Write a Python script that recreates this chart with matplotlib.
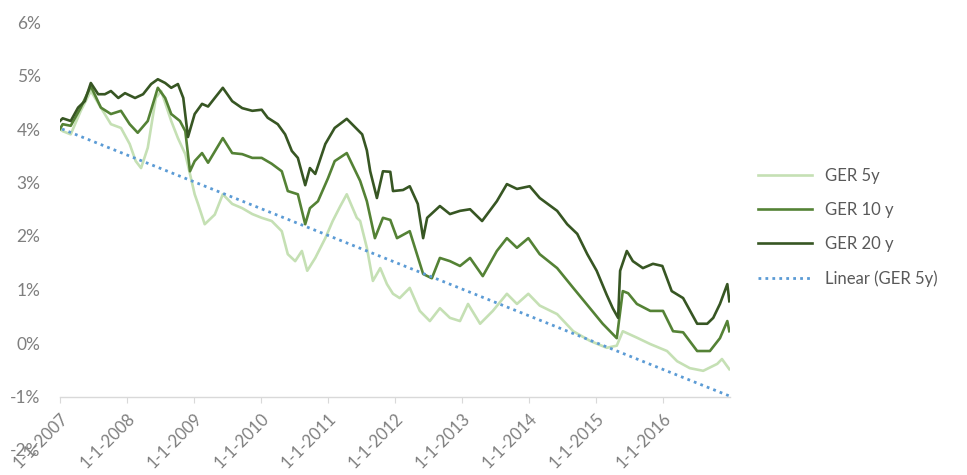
import matplotlib
matplotlib.use("Agg")
import matplotlib.pyplot as plt
import numpy as np

# German government bond yields (%); x in decimal years
t_5y = [2007.00, 2007.04, 2007.16, 2007.31, 2007.46, 2007.61, 2007.76, 2007.91, 2008.04,
        2008.13, 2008.21, 2008.31, 2008.43, 2008.51, 2008.66, 2008.76, 2008.87, 2008.94,
        2009.01, 2009.06, 2009.16, 2009.31, 2009.43, 2009.57, 2009.72, 2009.87, 2010.01,
        2010.16, 2010.31, 2010.40, 2010.51, 2010.61, 2010.69, 2010.81, 2010.96, 2011.07,
        2011.18, 2011.28, 2011.43, 2011.48, 2011.58, 2011.67, 2011.78, 2011.88, 2011.97,
        2012.07, 2012.22, 2012.37, 2012.52, 2012.67, 2012.82, 2012.97, 2013.09, 2013.27,
        2013.46, 2013.67, 2013.82, 2013.99, 2014.16, 2014.42, 2014.66, 2014.91, 2015.16,
        2015.31, 2015.40, 2015.61, 2015.81, 2016.06, 2016.21, 2016.40, 2016.60, 2016.81,
        2016.88, 2016.99]
ger_5y = [4.00, 3.96, 3.90, 4.34, 4.71, 4.40, 4.09, 4.02, 3.72,
          3.40, 3.27, 3.65, 4.58, 4.71, 4.15, 3.83, 3.53, 3.16,
          2.78, 2.60, 2.22, 2.40, 2.78, 2.60, 2.52, 2.41, 2.34,
          2.28, 2.09, 1.66, 1.53, 1.72, 1.35, 1.59, 1.96, 2.28,
          2.55, 2.78, 2.34, 2.28, 1.78, 1.16, 1.40, 1.10, 0.92,
          0.84, 1.03, 0.60, 0.41, 0.65, 0.47, 0.41, 0.73, 0.36,
          0.60, 0.92, 0.73, 0.92, 0.70, 0.54, 0.22, 0.04, -0.09,
          -0.05, 0.22, 0.10, -0.02, -0.15, -0.34, -0.47, -0.52, -0.39,
          -0.30, -0.49]

t_10y = [2007.00, 2007.04, 2007.16, 2007.31, 2007.46, 2007.61, 2007.76, 2007.91, 2008.04,
         2008.16, 2008.31, 2008.46, 2008.57, 2008.66, 2008.79, 2008.87, 2008.94, 2009.01,
         2009.12, 2009.21, 2009.43, 2009.57, 2009.72, 2009.87, 2010.01, 2010.16, 2010.31,
         2010.40, 2010.55, 2010.66, 2010.73, 2010.85, 2011.00, 2011.10, 2011.28, 2011.48,
         2011.58, 2011.70, 2011.82, 2011.93, 2012.03, 2012.22, 2012.42, 2012.55, 2012.67,
         2012.82, 2012.97, 2013.12, 2013.31, 2013.52, 2013.67, 2013.82, 2013.99, 2014.16,
         2014.42, 2014.66, 2014.91, 2015.10, 2015.31, 2015.40, 2015.48, 2015.61, 2015.81,
         2016.00, 2016.15, 2016.30, 2016.51, 2016.70, 2016.85, 2016.96, 2016.99]
ger_10y = [4.00, 4.09, 4.06, 4.40, 4.80, 4.40, 4.28, 4.34, 4.09,
           3.93, 4.15, 4.77, 4.58, 4.28, 4.15, 3.96, 3.21, 3.40,
           3.55, 3.37, 3.83, 3.55, 3.53, 3.46, 3.46, 3.35, 3.21,
           2.84, 2.78, 2.22, 2.52, 2.65, 3.08, 3.40, 3.55, 3.03,
           2.65, 1.96, 2.34, 2.30, 1.96, 2.09, 1.29, 1.21, 1.59,
           1.53, 1.44, 1.59, 1.25, 1.72, 1.96, 1.78, 1.96, 1.66,
           1.40, 1.03, 0.65, 0.36, 0.09, 0.97, 0.93, 0.73, 0.60,
           0.60, 0.22, 0.20, -0.15, -0.15, 0.09, 0.41, 0.22]

t_20y = [2007.00, 2007.04, 2007.16, 2007.27, 2007.37, 2007.46, 2007.57, 2007.67, 2007.76,
         2007.87, 2007.97, 2008.12, 2008.24, 2008.36, 2008.46, 2008.57, 2008.66, 2008.76,
         2008.84, 2008.91, 2009.01, 2009.12, 2009.21, 2009.31, 2009.43, 2009.57, 2009.72,
         2009.87, 2010.01, 2010.10, 2010.25, 2010.36, 2010.46, 2010.55, 2010.66, 2010.73,
         2010.81, 2010.96, 2011.10, 2011.28, 2011.51, 2011.58, 2011.63, 2011.73, 2011.82,
         2011.93, 2011.97, 2012.12, 2012.22, 2012.34, 2012.42, 2012.48, 2012.67, 2012.82,
         2012.97, 2013.12, 2013.30, 2013.52, 2013.67, 2013.82, 2014.01, 2014.16, 2014.42,
         2014.57, 2014.72, 2014.87, 2015.01, 2015.16, 2015.25, 2015.33, 2015.36, 2015.46,
         2015.55, 2015.70, 2015.85, 2015.99, 2016.13, 2016.30, 2016.51, 2016.66, 2016.75,
         2016.85, 2016.96, 2016.99]
ger_20y = [4.15, 4.20, 4.15, 4.40, 4.52, 4.86, 4.65, 4.65, 4.71,
           4.58, 4.67, 4.58, 4.65, 4.84, 4.93, 4.86, 4.77, 4.84,
           4.58, 3.85, 4.28, 4.47, 4.42, 4.58, 4.77, 4.52, 4.39,
           4.34, 4.36, 4.21, 4.09, 3.90, 3.59, 3.46, 2.95, 3.27,
           3.16, 3.72, 4.02, 4.19, 3.90, 3.60, 3.21, 2.71, 3.21,
           3.20, 2.84, 2.86, 2.93, 2.60, 1.96, 2.34, 2.56, 2.41,
           2.47, 2.50, 2.28, 2.65, 2.97, 2.88, 2.93, 2.71, 2.47,
           2.22, 2.04, 1.66, 1.35, 0.90, 0.65, 0.47, 1.35, 1.72,
           1.53, 1.40, 1.48, 1.44, 0.97, 0.84, 0.36, 0.36, 0.47,
           0.73, 1.10, 0.78]

# Excel linear trend of GER 5y, start and end value
trend_t = [2007.03, 2016.99]
trend_v = [4.00, -0.99]

year_ticks = list(range(2007, 2017))
year_labels = ["1-1-%d" % y for y in year_ticks]
y_ticks = list(range(-2, 7))
y_labels = ["%d%%" % v for v in y_ticks]

plt.rcParams['font.family'] = ['Lato', 'DejaVu Sans']

fig = plt.figure(figsize=(9.67, 4.75), dpi=100)
ax = fig.add_axes([60/967, 25/475, 670/967, 428/475])

ax.plot(t_5y, ger_5y, color='#c5e0b4', lw=1.9, label='GER 5y')
ax.plot(t_10y, ger_10y, color='#548235', lw=1.9, label='GER 10 y')
ax.plot(t_20y, ger_20y, color='#375623', lw=1.9, label='GER 20 y')
ax.plot(trend_t, trend_v, color='#5b9bd5', lw=2.0, ls=(0, (1, 1.5)),
        label='Linear (GER 5y)')

ax.set_xlim(2007, 2017)
ax.set_ylim(-2, 6)
for s in ['left', 'right', 'top']:
    ax.spines[s].set_visible(False)
ax.spines['bottom'].set_position(('data', -1))
ax.spines['bottom'].set_color('#d9d9d9')
ax.spines['bottom'].set_linewidth(1.0)

ax.set_xticks(year_ticks)
ax.set_xticklabels(year_labels, rotation=45, ha='right', rotation_mode='anchor',
                   fontsize=12, color='#7f7f7f')
ax.tick_params(axis='x', length=4, color='#d9d9d9', pad=6)
ax.set_yticks(y_ticks)
ax.set_yticklabels(y_labels, fontsize=12.5, color='#7f7f7f')
ax.tick_params(axis='y', length=0, pad=14)

ax.legend(loc='center left', bbox_to_anchor=(1.02, 0.52), frameon=False,
          fontsize=12, labelcolor='#595959', handlelength=3.2, labelspacing=1.1)

fig.savefig('out.png', dpi=100)
